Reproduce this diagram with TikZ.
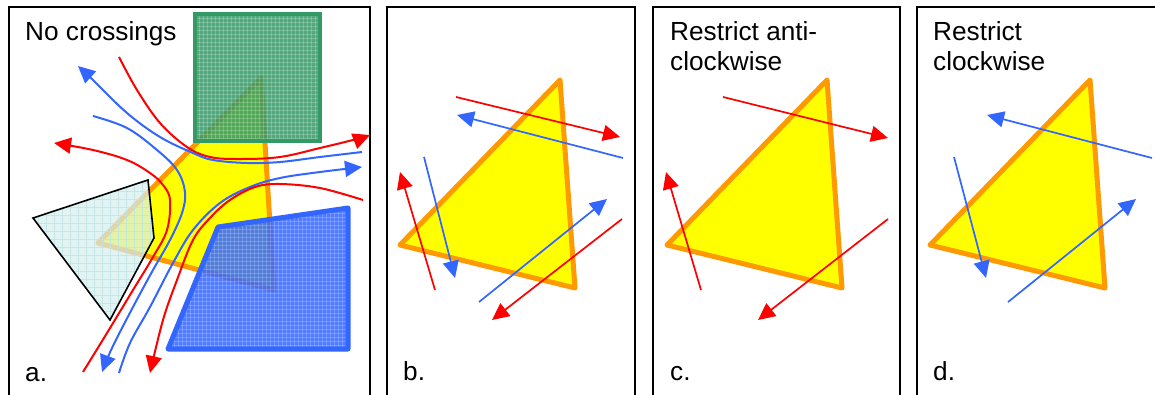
\documentclass[tikz,border=0pt]{standalone}
\usepackage{fontspec}
\setmainfont{Liberation Sans}
\usetikzlibrary{arrows.meta}
\definecolor{myred}{RGB}{255,0,0}
\definecolor{myblue}{RGB}{51,102,255}
\definecolor{tyellow}{RGB}{255,255,0}
\definecolor{torange}{RGB}{255,153,0}
\definecolor{sqgreen}{RGB}{51,153,102}
\definecolor{lcyan}{RGB}{214,238,238}
\definecolor{gridcyan}{RGB}{190,228,230}
\tikzset{
  frame/.style={draw=black, line width=1.6},
  tri/.style={fill=tyellow, draw=torange, line width=5, line join=round},
  label/.style={inner sep=0, anchor=base west, font=\fontsize{26.2}{30}\selectfont},
  arrowtip/.style={-{Triangle[length=17pt,width=16pt]}},
  redcurve/.style={draw=myred, line width=2},
  bluecurve/.style={draw=myblue, line width=2},
  redline/.style={draw=myred, line width=1.7},
  blueline/.style={draw=myblue, line width=1.7},
}
\begin{document}
\begin{tikzpicture}[x=1pt, y=-1pt]
\useasboundingbox (0,0) rectangle (1155,394);
\clip (0,0) rectangle (1155,394);
\fill[white] (0,0) rectangle (1155,394);

% frames
\draw[frame] (9,7) rectangle (370,420);
\draw[frame] (387,7) rectangle (635,420);
\draw[frame] (653,7) rectangle (900,420);
\draw[frame] (917,7) rectangle (1170,420);

% ---------- panel a ----------
\draw[tri] (261,78) -- (98,243) -- (274,290) -- cycle;

% green square
\fill[sqgreen, fill opacity=0.85] (195,14) rectangle (320,141);
\begin{scope}
  \clip (195,14) rectangle (320,141);
  \foreach \k in {0,4,...,128} {
    \draw[white, opacity=0.22, line width=0.7] (195+\k,14) -- (195+\k,141);
    \draw[white, opacity=0.22, line width=0.7] (195,14+\k) -- (320,14+\k);
  }
\end{scope}
\draw[sqgreen, line width=4] (195,14) rectangle (320,141);

% light polygon
\fill[lcyan, fill opacity=0.7] (33,218) -- (148,180) -- (154,238) -- (110,320) -- cycle;
\begin{scope}
  \clip (33,218) -- (148,180) -- (154,238) -- (110,320) -- cycle;
  \foreach \k in {0,8,...,160} {
    \draw[gridcyan, opacity=0.8, line width=0.6] (30+\k,175) -- (30+\k,325);
    \draw[gridcyan, opacity=0.8, line width=0.6] (30,175+\k) -- (160,175+\k);
  }
\end{scope}
\draw[black, line width=1.6, line join=miter] (33,218) -- (148,180) -- (154,238) -- (110,320) -- cycle;

% blue polygon
\fill[myblue, fill opacity=0.85] (218,227) -- (348,208) -- (348,349) -- (168,349) -- cycle;
\begin{scope}
  \clip (218,227) -- (348,208) -- (348,349) -- (168,349) -- cycle;
  \foreach \k in {0,4,...,184} {
    \draw[white, opacity=0.2, line width=0.7] (166+\k,205) -- (166+\k,352);
    \draw[white, opacity=0.2, line width=0.7] (166,205+\k) -- (350,205+\k);
  }
\end{scope}
\draw[myblue, line width=5, line join=round] (218,227) -- (348,208) -- (348,349) -- (168,349) -- cycle;

% curves
\draw[redcurve, arrowtip] plot[smooth, tension=0.6] coordinates {(119,57) (137,90) (160,123) (187,147) (210,157) (240,159) (280,157) (320,148) (357,139) (370,135)};
\draw[bluecurve, arrowtip] plot[smooth, tension=0.6] coordinates {(362,152) (320,157) (280,162) (247,163) (213,160) (193,153) (160,137) (127,113) (93,80) (78,66)};
\draw[bluecurve, arrowtip] plot[smooth, tension=0.6] coordinates {(93,116) (127,128) (157,150) (177,170) (185,192) (182,213) (170,240) (153,270) (133,307) (112,348) (102,372)};
\draw[bluecurve, arrowtip] plot[smooth, tension=0.6] coordinates {(119,373) (130,343) (150,307) (173,263) (193,230) (220,203) (250,187) (280,178) (320,172) (362,167)};
\draw[redcurve, arrowtip] plot[smooth, tension=0.6] coordinates {(83,372) (107,333) (133,290) (153,257) (167,230) (170,200) (163,185) (150,173) (127,160) (93,150) (54,143)};
\draw[redcurve, arrowtip] plot[smooth, tension=0.6] coordinates {(363,200) (320,188) (280,184) (255,187) (230,200) (210,218) (193,240) (177,280) (163,320) (150,373)};

\node[label] (ta) at (25,40) {No crossings};
\node[label] (la) at (25,381) {a.};

% ---------- panel b ----------
\draw[tri] (560,80) -- (400,245) -- (575,288) -- cycle;
\draw[redline, arrowtip] (456,97) -- (620,137);
\draw[blueline, arrowtip] (623,158) -- (457,115);
\draw[redline, arrowtip] (435,290) -- (400,172);
\draw[blueline, arrowtip] (424,157) -- (455,278);
\draw[blueline, arrowtip] (479,302) -- (607,199);
\draw[redline, arrowtip] (622,219) -- (492,320);
\node[label] (lb) at (403,380) {b.};

% ---------- panel c ----------
\draw[tri] (827,80) -- (667,245) -- (842,288) -- cycle;
\draw[redline, arrowtip] (723,97) -- (888,138);
\draw[redline, arrowtip] (701,290) -- (666,172);
\draw[redline, arrowtip] (888,219) -- (758,320);
\node[label] (tc1) at (670,40) {Restrict anti-};
\node[label] (tc2) at (670,70) {clockwise};
\node[label] (lc) at (670,380) {c.};

% ---------- panel d ----------
\draw[tri] (1090,80) -- (930,245) -- (1105,288) -- cycle;
\draw[blueline, arrowtip] (1152,158) -- (987,115);
\draw[blueline, arrowtip] (954,157) -- (986,278);
\draw[blueline, arrowtip] (1008,302) -- (1136,199);
\node[label] (td1) at (933,40) {Restrict};
\node[label] (td2) at (933,70) {clockwise};
\node[label] (ld) at (933,380) {d.};
\end{tikzpicture}
\end{document}
